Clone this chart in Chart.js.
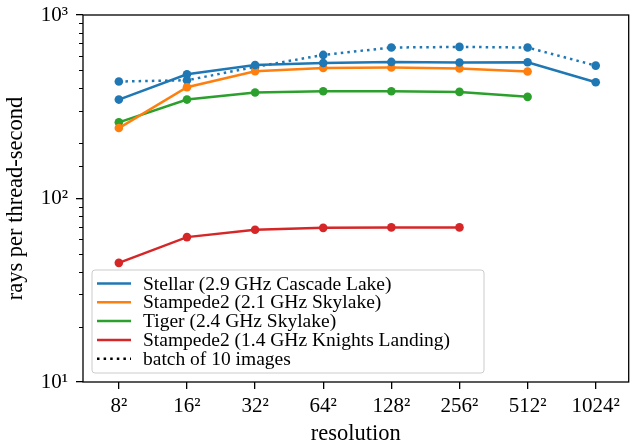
<!DOCTYPE html>
<html>
<head>
<meta charset="utf-8">
<script src="https://cdn.jsdelivr.net/npm/chart.js@4/dist/chart.umd.min.js"></script>
<style>
  html, body { margin: 0; padding: 0; background: #fff; }
  #wrap { width: 633px; height: 445px; position: relative; }
</style>
</head>
<body>
<div id="wrap"><canvas id="c" width="633" height="445"></canvas></div>
<script>
// Image resolutions (side length, shown squared)
const resolutions = ['8²', '16²', '32²', '64²', '128²', '256²', '512²', '1024²'];
const yTickLabels = { 10: '10¹', 100: '10²', 1000: '10³' };

// Rays per thread-second for each machine
const stellar       = [346, 475, 534, 548, 555, 551, 553, 430];
const stellarBatch  = [434, 441, 521, 606, 665, 670, 665, 530];
const stampede2Skx  = [242, 404, 494, 514, 517, 511, 492];
const tiger         = [260, 346, 378, 384, 384, 381, 358];
const stampede2Knl  = [44.6, 61.6, 67.5, 69.2, 69.6, 69.6];

const seriesNames = [
  'Stellar (2.9 GHz Cascade Lake)',
  'Stampede2 (2.1 GHz Skylake)',
  'Tiger (2.4 GHz Skylake)',
  'Stampede2 (1.4 GHz Knights Landing)'
];
const batchName = 'batch of 10 images';

const C_BLUE = '#1f77b4', C_ORANGE = '#ff7f0e', C_GREEN = '#2ca02c', C_RED = '#d62728';
const FONT = '"Liberation Serif", "DejaVu Serif", serif';

const toXY = arr => arr.map((v, i) => ({ x: i, y: v }));

function lineSet(label, data, color, extra) {
  return Object.assign({
    label, data: toXY(data),
    borderColor: color, backgroundColor: color,
    pointBackgroundColor: color, pointBorderColor: color,
    borderWidth: 2.5, pointRadius: 4.3, pointBorderWidth: 0,
    pointHoverRadius: 4.3, tension: 0, fill: false
  }, extra || {});
}

// Frame, minor ticks and the in-axes legend
const decorations = {
  id: 'decorations',
  afterDraw(chart) {
    const { ctx, chartArea: a, scales } = chart;
    const ys = scales.y;
    ctx.save();
    // minor ticks on the log axis
    ctx.strokeStyle = '#000';
    ctx.lineWidth = 1;
    ys.ticks.forEach(t => {
      const v = t.value;
      if (yTickLabels[v]) return;
      const p = Math.round(ys.getPixelForValue(v)) + 0.5;
      ctx.beginPath();
      ctx.moveTo(a.left - 4, p);
      ctx.lineTo(a.left, p);
      ctx.stroke();
    });
    // axes frame
    ctx.lineWidth = 1.3;
    ctx.strokeRect(a.left, a.top, a.right - a.left, a.bottom - a.top);

    // legend
    const entries = chart.data.datasets
      .filter(d => !d.isBatch)
      .map(d => ({ text: d.label, color: d.borderColor, dash: [] }));
    entries.push({ text: batchName, color: '#000', dash: [2.5, 4.1] });
    const rowH = 18.8;
    const bx = a.left + 9, bw = 392;
    const bh = rowH * entries.length + 9;
    const by = a.bottom - 9 - bh;
    ctx.beginPath();
    const r = 3;
    ctx.moveTo(bx + r, by);
    ctx.arcTo(bx + bw, by, bx + bw, by + bh, r);
    ctx.arcTo(bx + bw, by + bh, bx, by + bh, r);
    ctx.arcTo(bx, by + bh, bx, by, r);
    ctx.arcTo(bx, by, bx + bw, by, r);
    ctx.closePath();
    ctx.fillStyle = 'rgba(255,255,255,0.8)';
    ctx.fill();
    ctx.strokeStyle = '#cccccc';
    ctx.lineWidth = 1;
    ctx.stroke();
    ctx.font = '19.5px ' + FONT;
    ctx.textBaseline = 'middle';
    entries.forEach((e, i) => {
      const cy = by + 13.5 + i * rowH;
      ctx.strokeStyle = e.color;
      ctx.lineWidth = 2.5;
      ctx.lineCap = 'butt';
      ctx.setLineDash(e.dash);
      ctx.beginPath();
      ctx.moveTo(bx + 5, cy);
      ctx.lineTo(bx + 39, cy);
      ctx.stroke();
      ctx.setLineDash([]);
      ctx.fillStyle = '#000';
      ctx.fillText(e.text, bx + 51, cy + 1);
    });
    ctx.restore();
  }
};

new Chart(document.getElementById('c'), {
  type: 'line',
  data: {
    datasets: [
      lineSet(seriesNames[0], stellar, C_BLUE),
      lineSet(seriesNames[1], stampede2Skx, C_ORANGE),
      lineSet(seriesNames[2], tiger, C_GREEN),
      lineSet(seriesNames[3], stampede2Knl, C_RED),
      lineSet(seriesNames[0] + ', ' + batchName, stellarBatch, C_BLUE,
        { borderDash: [2.5, 4.1], isBatch: true })
    ]
  },
  options: {
    responsive: false,
    animation: false,
    devicePixelRatio: 1,
    layout: { padding: { top: 15, right: 1, left: 0, bottom: 0 } },
    plugins: { legend: { display: false }, tooltip: { enabled: false } },
    scales: {
      x: {
        type: 'linear',
        min: -0.526, max: 7.484,
        afterBuildTicks: s => { s.ticks = resolutions.map((_, i) => ({ value: i })); },
        afterFit: s => { s.height = 63; },
        grid: { drawOnChartArea: false, tickLength: 7, color: '#000', lineWidth: 1.3 },
        border: { display: false },
        ticks: {
          color: '#000', padding: 5, maxRotation: 0, autoSkip: false,
          font: { family: FONT, size: 21 },
          callback: v => resolutions[v] ?? ''
        },
        title: {
          display: true, text: 'resolution', color: '#000',
          font: { family: FONT, size: 22.5, lineHeight: 1.0 }, padding: { top: 0, bottom: 0 }
        }
      },
      y: {
        type: 'logarithmic',
        min: 10, max: 1000,
        afterFit: s => { s.width = 83; s.paddingTop = 0; s.paddingBottom = 0; },
        grid: {
          drawOnChartArea: false, tickLength: 7, lineWidth: 1.3,
          color: c => (c.tick && yTickLabels[c.tick.value]) ? '#000' : 'rgba(0,0,0,0)'
        },
        border: { display: false },
        ticks: {
          color: '#000', padding: 8, autoSkip: false,
          font: { family: FONT, size: 21, lineHeight: 1.0 },
          callback: v => yTickLabels[v] ?? ''
        },
        title: {
          display: true, text: 'rays per thread-second', color: '#000',
          font: { family: FONT, size: 22.5, lineHeight: 1.0 }, padding: { top: 5, bottom: 0 }
        }
      }
    }
  },
  plugins: [decorations]
});
</script>
</body>
</html>
